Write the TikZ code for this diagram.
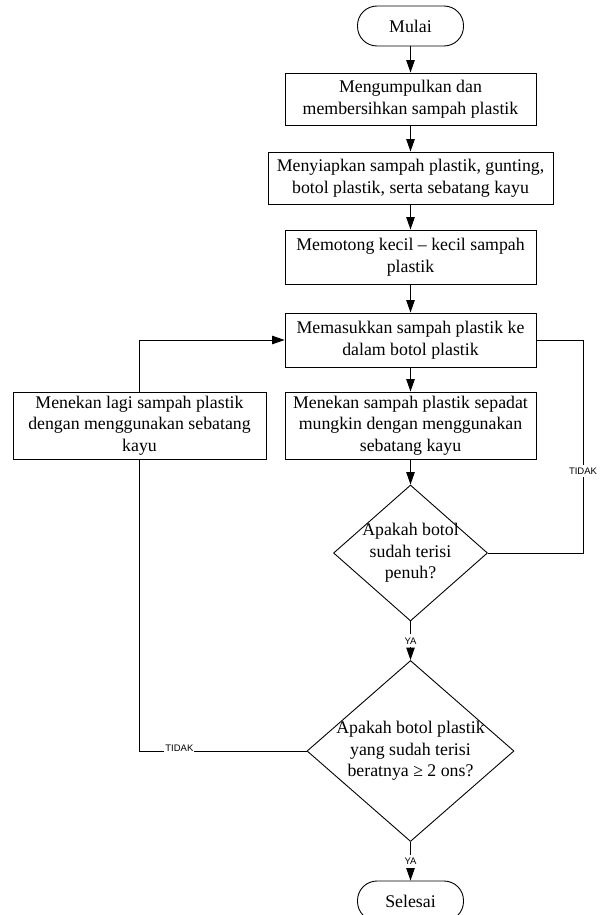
\documentclass[tikz,border=0pt]{standalone}
\usepackage{fontspec}
\setmainfont{Liberation Serif}
\newfontfamily\lblfont{Liberation Sans}
\usetikzlibrary{arrows.meta,shapes.geometric}
\begin{document}
\begin{tikzpicture}[x=1pt,y=-1pt,
  every node/.style={font=\fontsize{17.8}{21.7}\selectfont},
  proc/.style={draw, line width=0.9pt, minimum width=251pt, minimum height=53pt, align=center, inner sep=2pt},
  term/.style={draw, line width=0.9pt, rounded corners=19.5pt, minimum width=106pt, minimum height=40pt},
  dec/.style={draw, diamond, line width=0.9pt, inner sep=0pt},
  conn/.style={line width=0.9pt},
  arr/.style={conn, -{Triangle[length=12.5pt,width=8.5pt]}},
  lbl/.style={font=\lblfont\fontsize{9.5}{10.5}\selectfont, fill=white, inner xsep=1pt, inner ysep=3pt},
  lblh/.style={lbl, anchor=base, inner ysep=1.2pt}
]
\useasboundingbox (0,0) rectangle (603,915);
\node[term] (start) at (410.5,26) {Mulai};
\node[proc, minimum height=52pt] (b1) at (410.5,99) {Mengumpulkan dan\\membersihkan sampah plastik};
\node[proc, minimum width=285pt, minimum height=52pt] (b2) at (410.5,178) {Menyiapkan sampah plastik, gunting,\\botol plastik, serta sebatang kayu};
\node[proc, minimum height=54pt] (b3) at (410.5,257) {Memotong kecil -- kecil sampah\\plastik};
\node[proc, minimum height=54pt] (b4) at (410.5,340) {Memasukkan sampah plastik ke\\dalam botol plastik};
\node[proc, minimum height=67pt] (b5) at (410.5,425.5) {Menekan sampah plastik sepadat\\mungkin dengan menggunakan\\sebatang kayu};
\node[proc, minimum width=253pt, minimum height=67pt] (bl) at (139.5,425.5) {Menekan lagi sampah plastik\\dengan menggunakan sebatang\\kayu};
\node[dec, minimum width=154pt, minimum height=136pt] (d1) at (410.5,553) {};
\node[align=center] (t1) at (d1.center) {Apakah botol\\sudah terisi\\penuh?};
\node[dec, minimum width=207pt, minimum height=181pt] (d2) at (410.5,751) {};
\node[align=center] (t2) at (d2.center) {Apakah botol plastik\\yang sudah terisi\\beratnya ≥ 2 ons?};
\node[term] (end) at (410.5,901) {Selesai};

\coordinate (rc1) at (583,553);
\coordinate (rc2) at (583,340);
\coordinate (lc1) at (139.5,751);
\coordinate (lt) at (139.5,340);

\draw[arr] (start.south) -- (b1.north);
\draw[arr] (b1.south) -- (b2.north);
\draw[arr] (b2.south) -- (b3.north);
\draw[arr] (b3.south) -- (b4.north);
\draw[arr] (b4.south) -- (b5.north);
\draw[arr] (b5.south) -- (d1.north);
\draw[arr] (d1.south) -- node[lbl]{YA} (d2.north);
\draw[arr] (d2.south) -- node[lbl]{YA} (end.north);
\draw[conn] (d1.east) -- (rc1) -- node[lbl, pos=0.385]{TIDAK} (rc2) -- (b4.east);
\draw[conn] (d2.west) -- node[lblh, pos=0.761]{TIDAK} (lc1) -- (bl.south);
\draw[arr] (bl.north) -- (lt) -- (b4.west);
\end{tikzpicture}
\end{document}
